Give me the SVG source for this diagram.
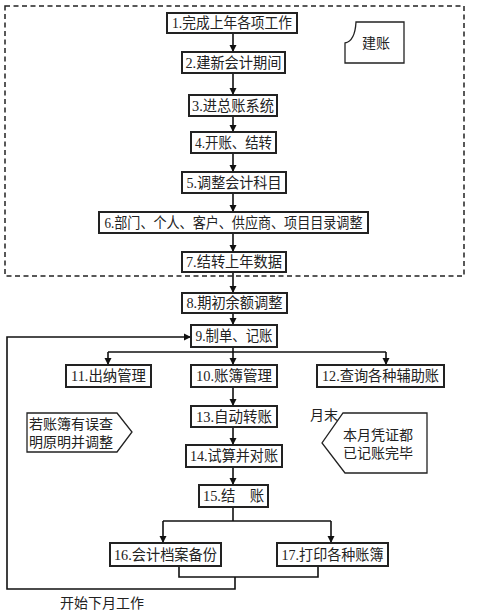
<svg xmlns="http://www.w3.org/2000/svg" width="480" height="616" viewBox="0 0 480 616">
<defs>
<marker id="ah" viewBox="0 0 10 10" refX="10" refY="5" markerWidth="7" markerHeight="8" markerUnits="userSpaceOnUse" orient="auto">
<path d="M0,0 L10,5 L0,10 Z" fill="#111"/>
</marker>
<style>
.box{fill:#fff;stroke:#222;stroke-width:2}
.shape{fill:#fff;stroke:#222;stroke-width:1.3}
.t{font-family:"Liberation Serif","Noto Sans CJK SC",serif;font-size:15px;fill:#222;text-anchor:middle}
.n{font-family:"Liberation Serif","Noto Sans CJK SC",serif;font-size:14px;fill:#222;text-anchor:middle}
.tl{font-family:"Liberation Serif","Noto Sans CJK SC",serif;font-size:14px;fill:#222}
.c{fill:none;stroke:#111;stroke-width:1.6}
.arr{fill:none;stroke:#111;stroke-width:1.6;marker-end:url(#ah)}
</style>
</defs>
<rect width="480" height="616" fill="#fff"/>
<rect id="group-jianzhang" x="5" y="6" width="459" height="270" fill="none" stroke="#222" stroke-width="1.5" stroke-dasharray="5,3.5"/>

<g id="connectors">
<line class="arr" x1="233" y1="33" x2="233" y2="52"/>
<line class="arr" x1="233" y1="73" x2="233" y2="95"/>
<line class="arr" x1="233" y1="116" x2="233" y2="132"/>
<line class="arr" x1="233" y1="153" x2="233" y2="172"/>
<line class="arr" x1="233" y1="193" x2="233" y2="212"/>
<line class="arr" x1="233" y1="233" x2="233" y2="252"/>
<line class="arr" x1="233" y1="272" x2="233" y2="293"/>
<line class="arr" x1="233" y1="313" x2="233" y2="325"/>
<polyline class="c" points="233,347 233,352"/>
<polyline class="c" points="108,352 386,352"/>
<line class="arr" x1="108" y1="352" x2="108" y2="365"/>
<line class="arr" x1="233" y1="352" x2="233" y2="365"/>
<line class="arr" x1="386" y1="352" x2="386" y2="365"/>
<line class="arr" x1="233" y1="387" x2="233" y2="406"/>
<line class="arr" x1="233" y1="427" x2="233" y2="445"/>
<line class="arr" x1="233" y1="467" x2="233" y2="485"/>
<polyline class="c" points="233,507 233,521"/>
<polyline class="c" points="163,521 331,521"/>
<line class="arr" x1="163" y1="521" x2="163" y2="543"/>
<line class="arr" x1="331" y1="521" x2="331" y2="543"/>
<polyline class="c" points="179,566 179,577 318,577 318,566"/>
<polyline class="arr" points="235,577 235,589 7,589 7,337 191,337"/>
</g>

<g id="n1"><rect class="box" x="167" y="13" width="130" height="20"/><text class="t" x="232" y="28" textLength="120" lengthAdjust="spacingAndGlyphs">1.完成上年各项工作</text></g>
<g id="n2"><rect class="box" x="182" y="52" width="103" height="21"/><text class="t" x="233.5" y="68" textLength="96" lengthAdjust="spacingAndGlyphs">2.建新会计期间</text></g>
<g id="n3"><rect class="box" x="189" y="95" width="88" height="21"/><text class="t" x="233" y="111" textLength="82" lengthAdjust="spacingAndGlyphs">3.进总账系统</text></g>
<g id="n4"><rect class="box" x="191" y="132" width="85" height="21"/><text class="t" x="233.5" y="148" textLength="77" lengthAdjust="spacingAndGlyphs">4.开账、结转</text></g>
<g id="n5"><rect class="box" x="182" y="172" width="104" height="21"/><text class="t" x="234" y="188" textLength="95" lengthAdjust="spacingAndGlyphs">5.调整会计科目</text></g>
<g id="n6"><rect class="box" x="99" y="212" width="269" height="21"/><text class="t" x="233.5" y="228" textLength="258" lengthAdjust="spacingAndGlyphs">6.部门、个人、客户、供应商、项目目录调整</text></g>
<g id="n7"><rect class="box" x="182" y="252" width="104" height="20"/><text class="t" x="234" y="267" textLength="96" lengthAdjust="spacingAndGlyphs">7.结转上年数据</text></g>
<g id="n8"><rect class="box" x="182" y="293" width="105" height="20"/><text class="t" x="234.5" y="308" textLength="96" lengthAdjust="spacingAndGlyphs">8.期初余额调整</text></g>
<g id="n9"><rect class="box" x="191" y="325" width="86" height="22"/><text class="t" x="234" y="341" textLength="77" lengthAdjust="spacingAndGlyphs">9.制单、记账</text></g>
<g id="n11"><rect class="box" x="66" y="365" width="85" height="22"/><text class="t" x="108.5" y="381" textLength="75" lengthAdjust="spacingAndGlyphs">11.出纳管理</text></g>
<g id="n10"><rect class="box" x="191" y="365" width="86" height="22"/><text class="t" x="234" y="381" textLength="76" lengthAdjust="spacingAndGlyphs">10.账簿管理</text></g>
<g id="n12"><rect class="box" x="317" y="365" width="127" height="22"/><text class="t" x="380.5" y="381" textLength="117" lengthAdjust="spacingAndGlyphs">12.查询各种辅助账</text></g>
<g id="n13"><rect class="box" x="191" y="406" width="86" height="21"/><text class="t" x="234" y="422" textLength="76" lengthAdjust="spacingAndGlyphs">13.自动转账</text></g>
<g id="n14"><rect class="box" x="186" y="445" width="96" height="22"/><text class="t" x="234" y="461" textLength="88" lengthAdjust="spacingAndGlyphs">14.试算并对账</text></g>
<g id="n15"><rect class="box" x="199" y="485" width="69" height="22"/><text class="t" x="233.5" y="501" textLength="61" lengthAdjust="spacingAndGlyphs" xml:space="preserve">15.结　账</text></g>
<g id="n16"><rect class="box" x="110" y="543" width="111" height="23"/><text class="t" x="165.5" y="560" textLength="103" lengthAdjust="spacingAndGlyphs">16.会计档案备份</text></g>
<g id="n17"><rect class="box" x="277" y="543" width="111" height="23"/><text class="t" x="332.5" y="560" textLength="102" lengthAdjust="spacingAndGlyphs">17.打印各种账簿</text></g>

<g id="note-jianzhang"><path class="shape" d="M345,43 Q355,41 356,22 L404,22 L404,63 L345,63 Z"/><text class="n" x="376" y="48">建账</text></g>
<g id="note-error"><path class="shape" d="M27,413 L117,413 L132,432 L117,452 L27,452 Z"/><text class="tl" x="29" y="429">若账簿有误查</text><text class="tl" x="29" y="447">明原明并调整</text></g>
<g id="note-monthend"><text class="tl" x="310" y="420">月末</text><path class="shape" d="M343,413 L427,413 L427,473 L345,473 L322,443 Z"/><text class="n" x="378" y="440">本月凭证都</text><text class="n" x="378" y="458">已记账完毕</text></g>
<g id="label-next"><text class="tl" x="60" y="608">开始下月工作</text></g>
</svg>
